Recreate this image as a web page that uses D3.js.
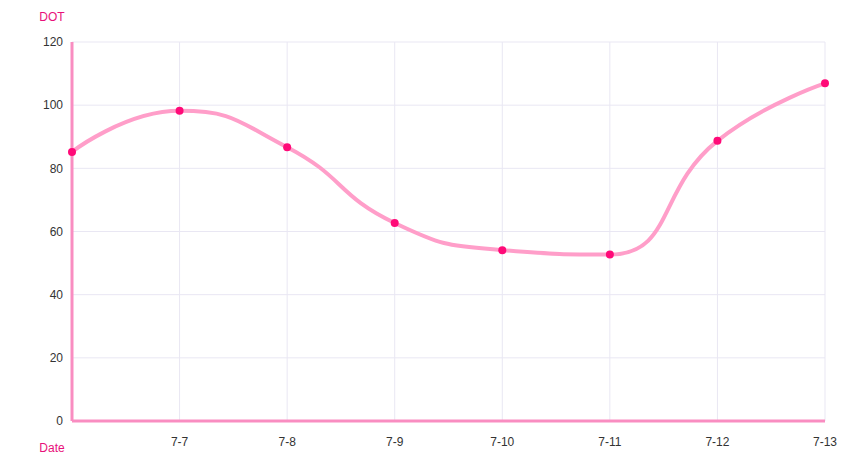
<!DOCTYPE html>
<html>
<head>
<meta charset="utf-8">
<script src="https://cdn.jsdelivr.net/npm/d3@7"></script>
<style>
  body { margin: 0; background: #fff; }
  text { font-family: "Helvetica Neue", Arial, "Liberation Sans", sans-serif; }
</style>
</head>
<body>
<svg width="853" height="455"></svg>
<script>
var dates = ["7-6", "7-7", "7-8", "7-9", "7-10", "7-11", "7-12", "7-13"];
var dot = [85.2, 98.2, 86.7, 62.7, 54.1, 52.7, 88.7, 106.9];
var yTicks = [0, 20, 40, 60, 80, 100, 120];

var svg = d3.select("svg"),
    plotLeft = 72, plotRight = 825, plotTop = 42, plotBottom = 421;

var x = d3.scalePoint().domain(dates).range([plotLeft, plotRight]);
var y = d3.scaleLinear().domain([0, 120]).range([plotBottom, plotTop]);

// grid
svg.append("g").selectAll("line").data(yTicks.slice(1)).enter().append("line")
  .attr("x1", plotLeft).attr("x2", plotRight)
  .attr("y1", function(d) { return y(d); }).attr("y2", function(d) { return y(d); })
  .attr("stroke", "#e9e7f3").attr("stroke-width", 1);
svg.append("g").selectAll("line").data(dates.slice(1)).enter().append("line")
  .attr("x1", function(d) { return x(d); }).attr("x2", function(d) { return x(d); })
  .attr("y1", plotTop).attr("y2", plotBottom)
  .attr("stroke", "#e9e7f3").attr("stroke-width", 1);

// y labels
svg.append("g").selectAll("text").data(yTicks).enter().append("text")
  .attr("x", 63).attr("y", function(d) { return y(d); })
  .attr("dy", "0.35em").attr("text-anchor", "end")
  .attr("font-size", 12).attr("fill", "#333")
  .text(function(d) { return d; });

// x labels (first one not shown)
svg.append("g").selectAll("text").data(dates.slice(1)).enter().append("text")
  .attr("x", function(d) { return x(d); }).attr("y", 446)
  .attr("text-anchor", "middle")
  .attr("font-size", 12).attr("fill", "#333")
  .text(function(d) { return d; });

// axis names
svg.append("text").attr("x", 52).attr("y", 21).attr("text-anchor", "middle")
  .attr("font-size", 12).attr("fill", "#e8107a").text("DOT");
svg.append("text").attr("x", 52).attr("y", 452).attr("text-anchor", "middle")
  .attr("font-size", 12).attr("fill", "#e8107a").text("Date");

// axis lines
svg.append("line").attr("x1", plotLeft).attr("x2", plotLeft).attr("y1", plotTop).attr("y2", plotBottom)
  .attr("stroke", "#f98dc1").attr("stroke-width", 3);
svg.append("line").attr("x1", plotLeft).attr("x2", plotRight).attr("y1", plotBottom).attr("y2", plotBottom)
  .attr("stroke", "#f98dc1").attr("stroke-width", 3);

// smooth line (echarts-style smoothing with clamped control points)
function smoothPath(pts, smooth) {
  var p = d3.path(), cpx0, cpy0, cpx1, cpy1;
  for (var i = 0; i < pts.length; i++) {
    var px = pts[i][0], py = pts[i][1];
    if (i === 0) { p.moveTo(px, py); cpx0 = px; cpy0 = py; continue; }
    var prev = pts[i - 1], next = pts[i + 1], nx0, ny0;
    if (!next) { cpx1 = px; cpy1 = py; }
    else {
      var vx = next[0] - prev[0], vy = next[1] - prev[1];
      var l0 = Math.hypot(px - prev[0], py - prev[1]);
      var l1 = Math.hypot(next[0] - px, next[1] - py);
      var r = l1 / (l0 + l1);
      nx0 = px + vx * smooth * r;
      ny0 = py + vy * smooth * r;
      nx0 = Math.max(Math.min(nx0, Math.max(next[0], px)), Math.min(next[0], px));
      ny0 = Math.max(Math.min(ny0, Math.max(next[1], py)), Math.min(next[1], py));
      vx = nx0 - px; vy = ny0 - py;
      cpx1 = px - vx * l0 / l1;
      cpy1 = py - vy * l0 / l1;
      cpx1 = Math.max(Math.min(cpx1, Math.max(prev[0], px)), Math.min(prev[0], px));
      cpy1 = Math.max(Math.min(cpy1, Math.max(prev[1], py)), Math.min(prev[1], py));
      vx = px - cpx1; vy = py - cpy1;
      nx0 = px + vx * l1 / l0;
      ny0 = py + vy * l1 / l0;
    }
    p.bezierCurveTo(cpx0, cpy0, cpx1, cpy1, px, py);
    cpx0 = nx0; cpy0 = ny0;
  }
  return p.toString();
}

var pts = dates.map(function(d, i) { return [x(d), y(dot[i])]; });
svg.append("path").attr("d", smoothPath(pts, 0.5))
  .attr("fill", "none").attr("stroke", "#ff9ec9").attr("stroke-width", 4)
  .attr("stroke-linejoin", "round");

svg.append("g").selectAll("circle").data(dot).enter().append("circle")
  .attr("cx", function(d, i) { return x(dates[i]); })
  .attr("cy", function(d) { return y(d); })
  .attr("r", 4).attr("fill", "#ff0a78");
</script>
</body>
</html>
